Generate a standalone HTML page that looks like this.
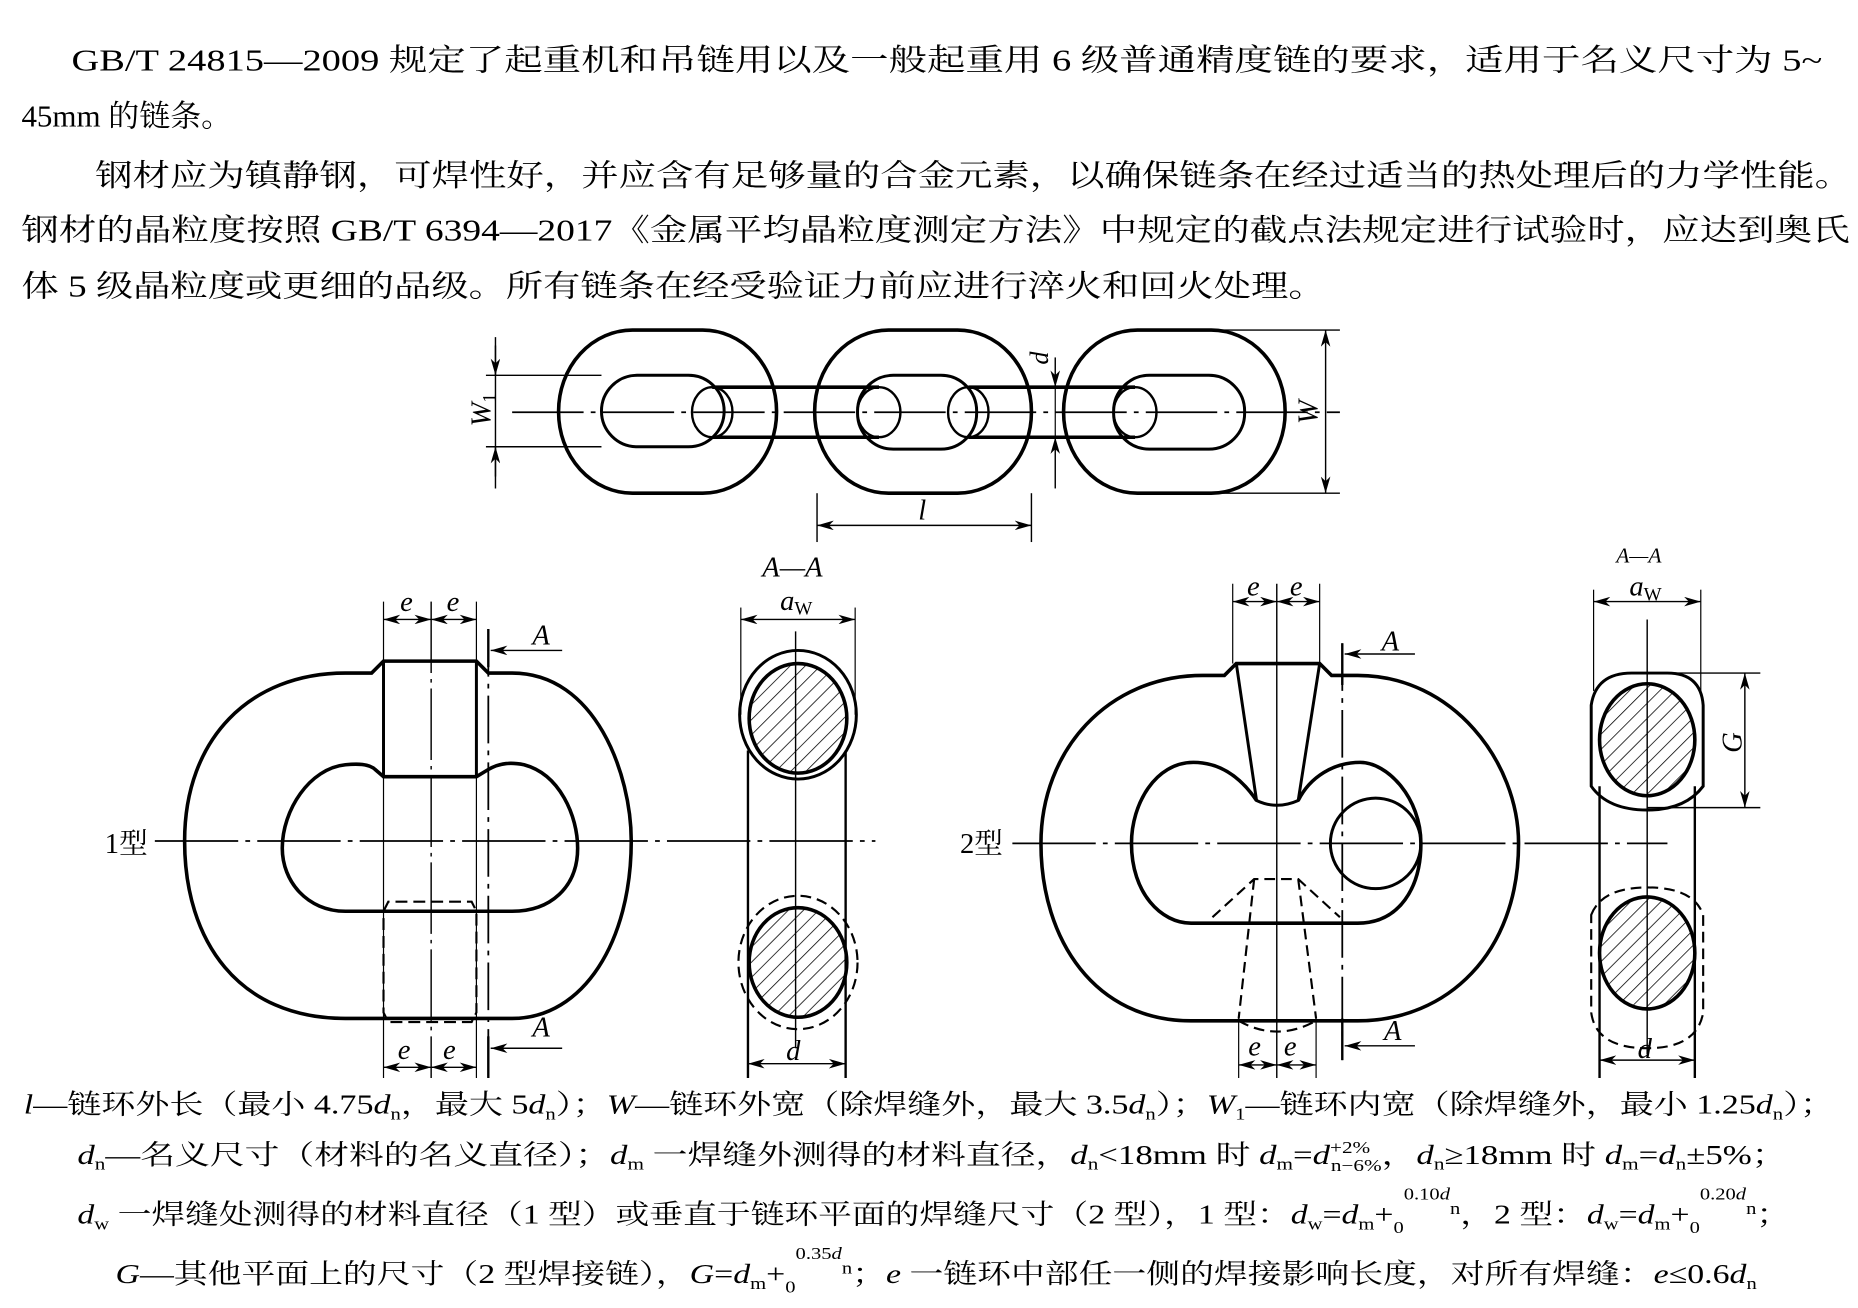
<!DOCTYPE html>
<html><head><meta charset="utf-8"><style>
html,body{margin:0;padding:0;background:#fff;}
svg{display:block;}
.t{font-family:"Liberation Serif","Noto Serif CJK SC",serif;fill:#000;}
.i{font-family:"Liberation Serif",serif;font-style:italic;fill:#000;}
</style></head><body>
<svg width="1858" height="1308" viewBox="0 0 1560 1098" xmlns="http://www.w3.org/2000/svg">
<defs>
<pattern id="h" patternUnits="userSpaceOnUse" width="9" height="9" patternTransform="rotate(45)">
<line x1="0" y1="0" x2="0" y2="9" stroke="#000" stroke-width="1.3"/></pattern>
<marker id="a" markerWidth="14" markerHeight="8" refX="14" refY="4" orient="auto" markerUnits="userSpaceOnUse"><path d="M0,0 L14,4 L0,8 L4,4 Z" fill="#000"/></marker>
<marker id="b" markerWidth="14" markerHeight="8" refX="0" refY="4" orient="auto" markerUnits="userSpaceOnUse"><path d="M14,0 L0,4 L14,8 L10,4 Z" fill="#000"/></marker>
</defs>
<!-- top paragraphs -->
<g class="t" font-size="26">
<text x="60" y="59" textLength="1470" lengthAdjust="spacingAndGlyphs">GB/T 24815—2009 规定了起重机和吊链用以及一般起重用 6 级普通精度链的要求，适用于名义尺寸为 5~</text>
<text x="18" y="106">45mm 的链条。</text>
<text x="80" y="156" textLength="1475" lengthAdjust="spacingAndGlyphs">钢材应为镇静钢，可焊性好，并应含有足够量的合金元素，以确保链条在经过适当的热处理后的力学性能。</text>
<text x="18" y="202" textLength="1535" lengthAdjust="spacingAndGlyphs">钢材的晶粒度按照 GB/T 6394—2017《金属平均晶粒度测定方法》中规定的截点法规定进行试验时，应达到奥氏</text>
<text x="18" y="249" textLength="1095" lengthAdjust="spacingAndGlyphs">体 5 级晶粒度或更细的品级。所有链条在经受验证力前应进行淬火和回火处理。</text>
</g>

<!-- top chain -->
<g fill="none" stroke="#000">
<rect x="469" y="277" width="183" height="137" rx="62" ry="68" stroke-width="3"/>
<rect x="505" y="315" width="103" height="60" rx="30" stroke-width="2.5"/>
<rect x="684" y="277" width="182" height="137" rx="62" ry="68" stroke-width="3"/>
<rect x="720" y="315" width="100" height="62" rx="30" stroke-width="2.5"/>
<rect x="893" y="277" width="186" height="137" rx="62" ry="68" stroke-width="3"/>
<rect x="935" y="315" width="110" height="62" rx="30" stroke-width="2.5"/>
<!-- bars -->
<path d="M598,325 L738,325 M598,367 L738,367" stroke-width="3"/>
<ellipse cx="598" cy="346" rx="17" ry="21" stroke-width="2"/>
<ellipse cx="738" cy="346" rx="18" ry="21" stroke-width="2"/>
<path d="M813,325 L953,325 M813,367 L953,367" stroke-width="3"/>
<ellipse cx="813" cy="346" rx="17" ry="21" stroke-width="2"/>
<ellipse cx="953" cy="346" rx="18" ry="21" stroke-width="2"/>
<line x1="430" y1="346" x2="1125" y2="346" stroke-width="1.5" stroke-dasharray="60,6,4,6"/>
<!-- W1 -->
<line x1="416" y1="283" x2="416" y2="410" stroke-width="1.2"/>
<line x1="408" y1="315" x2="505" y2="315" stroke-width="1.2"/>
<line x1="408" y1="375" x2="505" y2="375" stroke-width="1.2"/>
<line x1="416" y1="290" x2="416" y2="315" stroke-width="1.2" marker-end="url(#a)"/>
<line x1="416" y1="400" x2="416" y2="375" stroke-width="1.2" marker-end="url(#a)"/>
<!-- W -->
<line x1="990" y1="277" x2="1125" y2="277" stroke-width="1.2"/>
<line x1="990" y1="414" x2="1125" y2="414" stroke-width="1.2"/>
<line x1="1113" y1="277" x2="1113" y2="414" stroke-width="1.2" marker-start="url(#b)" marker-end="url(#a)"/>
<!-- d -->
<line x1="886" y1="300" x2="886" y2="325" stroke-width="1.2" marker-end="url(#a)"/>
<line x1="886" y1="410" x2="886" y2="367" stroke-width="1.2" marker-end="url(#a)"/>
<line x1="886" y1="325" x2="886" y2="367" stroke-width="1"/>
<!-- l -->
<line x1="686" y1="414" x2="686" y2="455" stroke-width="1.2"/>
<line x1="866" y1="414" x2="866" y2="455" stroke-width="1.2"/>
<line x1="686" y1="441" x2="866" y2="441" stroke-width="1.2" marker-start="url(#b)" marker-end="url(#a)"/>
</g>
<text class="i" font-size="24" transform="translate(412,358) rotate(-90)">W<tspan font-size="16" font-style="normal" dy="4">1</tspan></text>
<text class="i" font-size="24" transform="translate(1106,356) rotate(-90)">W</text>
<text class="i" font-size="22" transform="translate(880,306) rotate(-90)">d</text>
<text class="i" font-size="24" x="771" y="436">l</text>

<!-- Type 1 -->
<g fill="none" stroke="#000">
<path d="M312,565 L322,555 L400,555 L410,565 L430,565 C500,565 530,650 530,706 C530,790 490,855 430,855 L290,855 C200,855 155,790 155,706 C155,620 210,565 290,565 Z" stroke-width="3"/>
<path d="M322,555 L322,652 M400,555 L400,652" stroke-width="2.5"/>
<path d="M322,652 L400,652 L410,646 C420,640 430,640 440,642 C470,650 485,685 485,712 C485,745 462,765 430,765 L290,765 C258,765 237,740 237,712 C237,680 260,645 290,642 C300,641 310,641 315,646 Z" stroke-width="3"/>
<path d="M322,765 L326,757 L396,757 L400,765 L400,850 L396,858 L326,858 L322,850 Z" stroke-width="1.8" stroke-dasharray="10,5"/>
<line x1="130" y1="706" x2="735" y2="706" stroke-width="1.5" stroke-dasharray="70,6,4,6"/>
<line x1="362" y1="505" x2="362" y2="905" stroke-width="1.2" stroke-dasharray="60,5,3,5"/>
<line x1="322" y1="505" x2="322" y2="905" stroke-width="1"/>
<line x1="400" y1="505" x2="400" y2="905" stroke-width="1"/>
<line x1="322" y1="520" x2="362" y2="520" stroke-width="1.2" marker-start="url(#b)" marker-end="url(#a)"/>
<line x1="362" y1="520" x2="400" y2="520" stroke-width="1.2" marker-start="url(#b)" marker-end="url(#a)"/>
<line x1="322" y1="896" x2="362" y2="896" stroke-width="1.2" marker-start="url(#b)" marker-end="url(#a)"/>
<line x1="362" y1="896" x2="400" y2="896" stroke-width="1.2" marker-start="url(#b)" marker-end="url(#a)"/>
<line x1="410" y1="528" x2="410" y2="905" stroke-width="1.5" stroke-dasharray="40,6,4,6"/>
<line x1="410" y1="528" x2="410" y2="560" stroke-width="2"/>
<line x1="410" y1="870" x2="410" y2="905" stroke-width="2"/>
<line x1="472" y1="546" x2="412" y2="546" stroke-width="1.2" marker-end="url(#a)"/>
<line x1="472" y1="880" x2="412" y2="880" stroke-width="1.2" marker-end="url(#a)"/>
<!-- section 1 -->
<line x1="622" y1="510" x2="622" y2="600" stroke-width="1"/>
<line x1="718" y1="510" x2="718" y2="600" stroke-width="1"/>
<line x1="622" y1="520" x2="718" y2="520" stroke-width="1.2" marker-start="url(#b)" marker-end="url(#a)"/>
<line x1="628" y1="630" x2="628" y2="905" stroke-width="2"/>
<line x1="710" y1="630" x2="710" y2="905" stroke-width="2"/>
<ellipse cx="670" cy="600" rx="49" ry="54" stroke-width="2.5"/>
<ellipse cx="670" cy="603" rx="41" ry="46" fill="url(#h)" stroke-width="3"/>
<ellipse cx="670" cy="808" rx="50" ry="56" stroke-width="1.8" stroke-dasharray="9,5"/>
<ellipse cx="670" cy="808" rx="41" ry="46" fill="url(#h)" stroke-width="3"/>
<line x1="668" y1="530" x2="668" y2="880" stroke-width="1.2"/>
<line x1="628" y1="893" x2="710" y2="893" stroke-width="1.2" marker-start="url(#b)" marker-end="url(#a)"/>
</g>
<g class="i" font-size="24">
<text x="336" y="513">e</text><text x="375" y="513">e</text>
<text x="334" y="889">e</text><text x="372" y="889">e</text>
<text x="447" y="541">A</text><text x="447" y="870">A</text>
<text x="640" y="484">A—A</text>
<text x="655" y="512">a<tspan font-size="16" font-style="normal" dy="4">W</tspan></text>
<text x="660" y="890">d</text>
</g>
<text class="t" font-size="24" x="88" y="716">1型</text>

<!-- Type 2 -->
<g fill="none" stroke="#000">
<path d="M1028,567 L1038,557 L1108,557 L1118,567 L1140,567 C1220,567 1275,640 1275,708 C1275,800 1215,857 1140,857 L1000,857 C920,857 874,790 874,708 C874,630 930,567 1010,567 Z" stroke-width="3"/>
<path d="M1038,557 L1055,672 Q1072,680 1090,672 L1108,557" stroke-width="2.5"/>
<path d="M1055,672 C1040,650 1022,640 1002,640 C970,640 950,675 950,708 C950,750 975,775 1000,775 L1140,775 C1175,775 1193,745 1193,708 C1193,670 1165,640 1142,640 C1120,640 1100,652 1090,672" stroke-width="3"/>
<circle cx="1155" cy="708" r="38" stroke-width="2.5"/>
<path d="M1018,770 L1053,738 L1090,738 L1125,770 M1053,738 L1040,855 M1090,738 L1105,855 M1040,857 Q1072,875 1105,857" stroke-width="1.8" stroke-dasharray="9,5"/>
<line x1="850" y1="708" x2="1400" y2="708" stroke-width="1.5" stroke-dasharray="70,6,4,6"/>
<line x1="1072" y1="490" x2="1072" y2="905" stroke-width="1.2"/>
<line x1="1035" y1="490" x2="1035" y2="557" stroke-width="1"/>
<line x1="1108" y1="490" x2="1108" y2="557" stroke-width="1"/>
<line x1="1040" y1="855" x2="1040" y2="905" stroke-width="1"/>
<line x1="1105" y1="855" x2="1105" y2="905" stroke-width="1"/>
<line x1="1035" y1="505" x2="1072" y2="505" stroke-width="1.2" marker-start="url(#b)" marker-end="url(#a)"/>
<line x1="1072" y1="505" x2="1108" y2="505" stroke-width="1.2" marker-start="url(#b)" marker-end="url(#a)"/>
<line x1="1040" y1="894" x2="1072" y2="894" stroke-width="1.2" marker-start="url(#b)" marker-end="url(#a)"/>
<line x1="1072" y1="894" x2="1105" y2="894" stroke-width="1.2" marker-start="url(#b)" marker-end="url(#a)"/>
<line x1="1127" y1="540" x2="1127" y2="890" stroke-width="1.5" stroke-dasharray="40,6,4,6"/>
<line x1="1127" y1="540" x2="1127" y2="575" stroke-width="2"/>
<line x1="1127" y1="855" x2="1127" y2="890" stroke-width="2"/>
<line x1="1188" y1="549" x2="1129" y2="549" stroke-width="1.2" marker-end="url(#a)"/>
<line x1="1188" y1="878" x2="1129" y2="878" stroke-width="1.2" marker-end="url(#a)"/>
<!-- section 2 -->
<line x1="1338" y1="495" x2="1338" y2="580" stroke-width="1"/>
<line x1="1428" y1="495" x2="1428" y2="580" stroke-width="1"/>
<line x1="1338" y1="505" x2="1428" y2="505" stroke-width="1.2" marker-start="url(#b)" marker-end="url(#a)"/>
<line x1="1343" y1="660" x2="1343" y2="905" stroke-width="2"/>
<line x1="1423" y1="660" x2="1423" y2="905" stroke-width="2"/>
<path d="M1336,592 Q1340,565 1370,565 L1400,565 Q1428,565 1430,592 L1430,660 Q1415,680 1383,680 Q1350,680 1336,660 Z" stroke-width="2.5"/>
<ellipse cx="1383" cy="621" rx="40" ry="47" fill="url(#h)" stroke-width="3"/>
<path d="M1336,768 Q1345,745 1383,745 Q1422,745 1430,768 L1430,850 Q1425,880 1383,880 Q1340,880 1336,850 Z" stroke-width="1.8" stroke-dasharray="9,5"/>
<ellipse cx="1383" cy="800" rx="40" ry="47" fill="url(#h)" stroke-width="3"/>
<line x1="1383" y1="520" x2="1383" y2="885" stroke-width="1.2"/>
<line x1="1383" y1="565" x2="1478" y2="565" stroke-width="1.2"/>
<line x1="1383" y1="678" x2="1478" y2="678" stroke-width="1.2"/>
<line x1="1465" y1="565" x2="1465" y2="678" stroke-width="1.2" marker-start="url(#b)" marker-end="url(#a)"/>
<line x1="1343" y1="890" x2="1423" y2="890" stroke-width="1.2" marker-start="url(#b)" marker-end="url(#a)"/>
</g>
<g class="i" font-size="24">
<text x="1047" y="500">e</text><text x="1083" y="500">e</text>
<text x="1048" y="886">e</text><text x="1078" y="886">e</text>
<text x="1160" y="546">A</text><text x="1162" y="873">A</text>
<text x="1357" y="472" font-size="18">A—A</text>
<text x="1368" y="500">a<tspan font-size="16" font-style="normal" dy="4">W</tspan></text>
<text x="1375" y="888">d</text>
<text transform="translate(1462,632) rotate(-90)">G</text>
</g>
<text class="t" font-size="24" x="806" y="716">2型</text>

<!-- bottom legend -->
<g class="t" font-size="23">
<text x="20" y="935" textLength="1520" lengthAdjust="spacingAndGlyphs"><tspan font-style="italic">l</tspan>—链环外长（最小 4.75<tspan font-style="italic">d</tspan><tspan font-size="14" dy="5">n</tspan><tspan dy="-5">，最大 5</tspan><tspan font-style="italic">d</tspan><tspan font-size="14" dy="5">n</tspan><tspan dy="-5">）；</tspan><tspan font-style="italic">W</tspan>—链环外宽（除焊缝外，最大 3.5<tspan font-style="italic">d</tspan><tspan font-size="14" dy="5">n</tspan><tspan dy="-5">）；</tspan><tspan font-style="italic">W</tspan><tspan font-size="14" dy="5">1</tspan><tspan dy="-5">—链环内宽（除焊缝外，最小 1.25</tspan><tspan font-style="italic">d</tspan><tspan font-size="14" dy="5">n</tspan><tspan dy="-5">）；</tspan></text>
<text x="65" y="977" textLength="1435" lengthAdjust="spacingAndGlyphs"><tspan font-style="italic">d</tspan><tspan font-size="14" dy="5">n</tspan><tspan dy="-5">—名义尺寸（材料的名义直径）；</tspan><tspan font-style="italic">d</tspan><tspan font-size="14" dy="5">m</tspan><tspan dy="-5"> 一焊缝外测得的材料直径，</tspan><tspan font-style="italic">d</tspan><tspan font-size="14" dy="5">n</tspan><tspan dy="-5">&lt;18mm 时 </tspan><tspan font-style="italic">d</tspan><tspan font-size="14" dy="5">m</tspan><tspan dy="-5">=</tspan><tspan font-style="italic">d</tspan><tspan font-size="14" dy="-9">+2%</tspan><tspan font-size="14" dx="-26" dy="15">n−6%</tspan><tspan dy="-6">，</tspan><tspan font-style="italic">d</tspan><tspan font-size="14" dy="5">n</tspan><tspan dy="-5">≥18mm 时 </tspan><tspan font-style="italic">d</tspan><tspan font-size="14" dy="5">m</tspan><tspan dy="-5">=</tspan><tspan font-style="italic">d</tspan><tspan font-size="14" dy="5">n</tspan><tspan dy="-5">±5%；</tspan></text>
<text x="65" y="1027" textLength="1438" lengthAdjust="spacingAndGlyphs"><tspan font-style="italic">d</tspan><tspan font-size="14" dy="5">w</tspan><tspan dy="-5"> 一焊缝处测得的材料直径（1 型）或垂直于链环平面的焊缝尺寸（2 型），1 型：</tspan><tspan font-style="italic">d</tspan><tspan font-size="14" dy="5">w</tspan><tspan dy="-5">=</tspan><tspan font-style="italic">d</tspan><tspan font-size="14" dy="5">m</tspan><tspan dy="-5">+</tspan><tspan font-size="14" dy="8">0</tspan><tspan font-size="14" dy="-28">0.10<tspan font-style="italic">d</tspan></tspan><tspan font-size="14" dy="12">n</tspan><tspan dy="8">，2 型：</tspan><tspan font-style="italic">d</tspan><tspan font-size="14" dy="5">w</tspan><tspan dy="-5">=</tspan><tspan font-style="italic">d</tspan><tspan font-size="14" dy="5">m</tspan><tspan dy="-5">+</tspan><tspan font-size="14" dy="8">0</tspan><tspan font-size="14" dy="-28">0.20<tspan font-style="italic">d</tspan></tspan><tspan font-size="14" dy="12">n</tspan><tspan dy="8">；</tspan></text>
<text x="97" y="1077" textLength="1378" lengthAdjust="spacingAndGlyphs"><tspan font-style="italic">G</tspan>—其他平面上的尺寸（2 型焊接链），<tspan font-style="italic">G</tspan>=<tspan font-style="italic">d</tspan><tspan font-size="14" dy="5">m</tspan><tspan dy="-5">+</tspan><tspan font-size="14" dy="8">0</tspan><tspan font-size="14" dy="-28">0.35<tspan font-style="italic">d</tspan></tspan><tspan font-size="14" dy="12">n</tspan><tspan dy="8">；</tspan><tspan font-style="italic">e</tspan> 一链环中部任一侧的焊接影响长度，对所有焊缝：<tspan font-style="italic">e</tspan>≤0.6<tspan font-style="italic">d</tspan><tspan font-size="14" dy="5">n</tspan></text>
</g>
</svg>
</body></html>
